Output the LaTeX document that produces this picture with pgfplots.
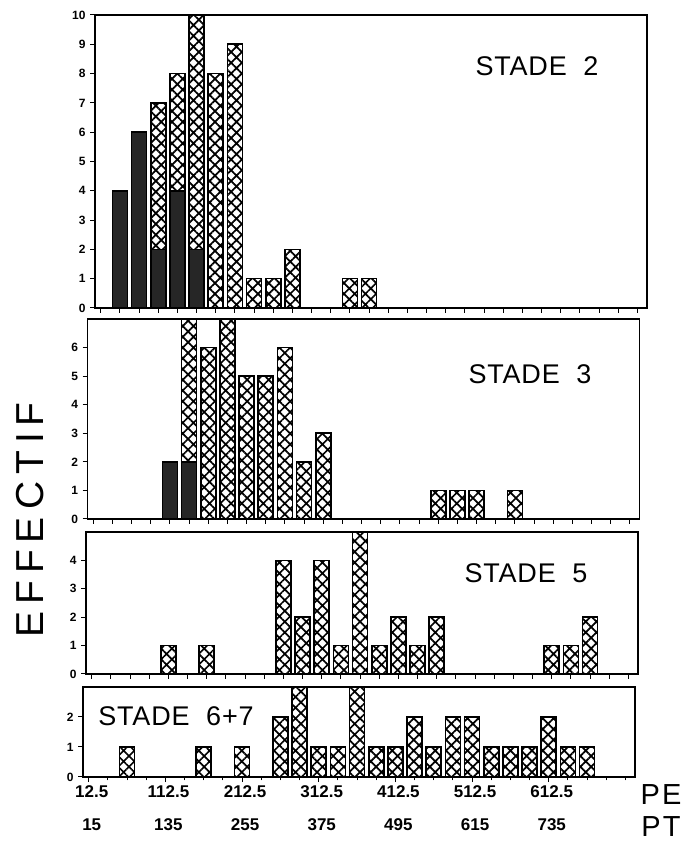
\documentclass[border=0pt]{standalone}
\usepackage{fontspec}
\setmainfont{Liberation Sans}
\newfontfamily\spaced[LetterSpace=18]{Liberation Sans}
\newfontfamily\spacedb[LetterSpace=3]{Liberation Sans}
\newfontfamily\spacedc[LetterSpace=8]{Liberation Sans}
\usepackage{pgfplots}
\pgfplotsset{compat=1.18}
\usetikzlibrary{patterns.meta}
\begin{document}
\begin{tikzpicture}
\useasboundingbox (0pt,0pt) rectangle (690pt,842pt);
\pgfplotsset{
 panel/.style={scale only axis, width=552pt, xmin=-0.3, xmax=28.5, ymin=0,
   anchor=south west,
   axis line style={line width=1.1pt},
   tick style={line width=1pt, black},
   tick align=outside, xtick pos=bottom, ytick pos=left,
   major tick length=5pt, minor tick length=3.5pt,
   xtick={0,...,28}, xticklabels={},
   yticklabel style={font=\bfseries\fontsize{12}{12}\selectfont, xshift=-1pt},
   /pgf/number format/assume math mode=true,
   clip=false,
 },
 hatchbar/.style={ybar, bar width=15pt, bar shift=0pt, draw=black, line width=1.6pt,
   pattern={Hatch[angle=45,distance=7.6pt,line width=1.7pt]}},
 solidbar/.style={ybar, bar width=15pt, bar shift=0pt, draw=black, line width=1.6pt, fill=black!85},
}
% STADE 2
\begin{axis}[panel, at={(95pt,534pt)}, height=293pt, ymax=10, ytick={0,...,10}]
\addplot[hatchbar] coordinates {(3,7)(4,8)(5,10)(6,8)(7,9)(8,1)(9,1)(10,2)(13,1)(14,1)};
\addplot[solidbar] coordinates {(1,4)(2,6)(3,2)(4,4)(5,2)};
\end{axis}
% STADE 3
\begin{axis}[panel, at={(87.5pt,323pt)}, height=200pt, ymax=7, ytick={0,...,6}]
\addplot[hatchbar] coordinates {(5,7)(6,6)(7,7)(8,5)(9,5)(10,6)(11,2)(12,3)(18,1)(19,1)(20,1)(22,1)};
\addplot[solidbar] coordinates {(4,2)(5,2)};
\end{axis}
% STADE 5
\begin{axis}[panel, at={(86pt,168pt)}, height=142pt, ymax=5, ytick={0,...,4}]
\addplot[hatchbar] coordinates {(4,1)(6,1)(10,4)(11,2)(12,4)(13,1)(14,5)(15,1)(16,2)(17,1)(18,2)(24,1)(25,1)(26,2)};
\end{axis}
% STADE 6+7
\begin{axis}[panel, at={(83pt,65pt)}, height=90pt, ymax=3, ytick={0,...,2},
  xtick={0,4,...,24}, minor xtick={0,...,28},
  xticklabels={{12.5\\15},{112.5\\135},{212.5\\255},{312.5\\375},{412.5\\495},{512.5\\615},{612.5\\735}},
  xticklabel style={align=center, font=\bfseries\fontsize{17}{33}\selectfont, xshift=3pt}]
\addplot[hatchbar] coordinates {(2,1)(6,1)(8,1)(10,2)(11,3)(12,1)(13,1)(14,3)(15,1)(16,1)(17,2)(18,1)(19,2)(20,2)(21,1)(22,1)(23,1)(24,2)(25,1)(26,1)};
\end{axis}
\node[font=\spacedb\fontsize{27}{27}\selectfont] at (537pt,776pt) {STADE\ \ 2};
\node[font=\spacedb\fontsize{27}{27}\selectfont] at (530pt,468pt) {STADE\ \ 3};
\node[font=\spacedb\fontsize{27}{27}\selectfont] at (526pt,269pt) {STADE\ \ 5};
\node[font=\spacedb\fontsize{27}{27}\selectfont] at (176pt,126pt) {STADE\ \ 6+7};
\node[rotate=90, font=\spaced\fontsize{39}{39}\selectfont] at (30pt,322pt) {EFFECTIF};
\node[font=\spacedc\fontsize{29}{29}\selectfont] at (661pt,47pt) {PE};
\node[font=\spacedc\fontsize{29}{29}\selectfont] at (661pt,15pt) {PT};
\end{tikzpicture}
\end{document}
